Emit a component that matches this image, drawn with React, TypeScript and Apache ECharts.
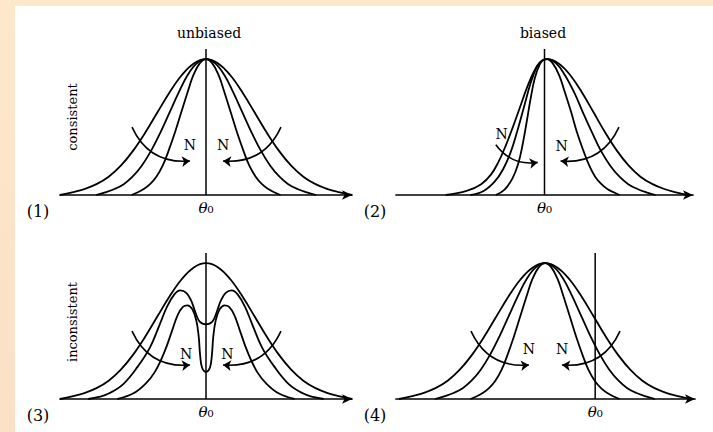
import React, { useEffect, useRef } from "react";
import * as echarts from "echarts";

const FONT = "DejaVu Serif";

// Half profiles of the symmetric sampling densities: [offset from peak, height]
const consistentOuterHalf = [
  [0, 1], [0.25, 0.969], [0.5, 0.882], [0.75, 0.755], [1, 0.607], [1.25, 0.458],
  [1.5, 0.325], [1.75, 0.216], [2, 0.135], [2.25, 0.08], [2.5, 0.044], [2.75, 0.02], [3, 0],
];
const consistentMiddleHalf = [
  [0, 1], [0.19, 0.969], [0.38, 0.882], [0.56, 0.755], [0.75, 0.607], [0.94, 0.458],
  [1.13, 0.325], [1.32, 0.216], [1.51, 0.135], [1.69, 0.08], [1.88, 0.044], [2.07, 0.02], [2.26, 0],
];
const consistentInnerHalf = [
  [0, 1], [0.13, 0.969], [0.26, 0.882], [0.38, 0.755], [0.51, 0.607], [0.64, 0.458],
  [0.77, 0.325], [0.89, 0.216], [1.02, 0.135], [1.15, 0.08], [1.28, 0.044], [1.4, 0.02], [1.53, 0],
];

// Skewed densities of the biased estimator (x measured from θ0)
const biasedOuter = [
  [-2.03, 0], [-1.6, 0.03], [-1.3, 0.08], [-1.1, 0.15], [-0.95, 0.24], [-0.8, 0.36],
  [-0.65, 0.5], [-0.5, 0.65], [-0.35, 0.8], [-0.2, 0.92], [-0.08, 0.98], [0.05, 1],
  [0.29, 0.969], [0.53, 0.882], [0.77, 0.755], [1.01, 0.607], [1.25, 0.458], [1.49, 0.325],
  [1.73, 0.216], [1.97, 0.135], [2.22, 0.08], [2.46, 0.044], [2.7, 0.02], [2.94, 0],
];
const biasedMiddle = [
  [-1.52, 0], [-1.25, 0.03], [-1.02, 0.1], [-0.85, 0.19], [-0.7, 0.31], [-0.56, 0.47],
  [-0.42, 0.65], [-0.28, 0.83], [-0.15, 0.95], [-0.05, 0.99], [0.05, 1],
  [0.24, 0.969], [0.42, 0.882], [0.61, 0.755], [0.79, 0.607], [0.98, 0.458], [1.16, 0.325],
  [1.35, 0.216], [1.54, 0.135], [1.72, 0.08], [1.91, 0.044], [2.09, 0.02], [2.28, 0],
];
const biasedInner = [
  [-1.0, 0], [-0.82, 0.04], [-0.66, 0.12], [-0.54, 0.23], [-0.45, 0.37], [-0.37, 0.53],
  [-0.29, 0.7], [-0.2, 0.86], [-0.1, 0.96], [-0.02, 0.995], [0.05, 1],
  [0.17, 0.969], [0.3, 0.882], [0.42, 0.755], [0.55, 0.607], [0.67, 0.458], [0.8, 0.325],
  [0.92, 0.216], [1.04, 0.135], [1.17, 0.08], [1.29, 0.044], [1.42, 0.02], [1.54, 0],
];

// Bimodal half profiles of the inconsistent estimator
const inconsistentMiddleHalf = [
  [0, 0.55], [0.13, 0.57], [0.22, 0.64], [0.3, 0.72], [0.4, 0.78], [0.53, 0.8],
  [0.65, 0.77], [0.8, 0.68], [0.95, 0.55], [1.15, 0.38], [1.4, 0.24], [1.7, 0.11],
  [2.0, 0.04], [2.2, 0.015], [2.42, 0],
];
const inconsistentInnerHalf = [
  [0, 0.2], [0.08, 0.23], [0.12, 0.32], [0.15, 0.46], [0.2, 0.58], [0.28, 0.66],
  [0.38, 0.69], [0.47, 0.68], [0.58, 0.62], [0.7, 0.5], [0.85, 0.35], [1.05, 0.2],
  [1.25, 0.11], [1.5, 0.04], [1.82, 0],
];

// Offset of θ0 from the peak in panel (4)
const bias4 = 1.03;

// Curved "N" arrows: [start, end] and the bend of each
const arrowsSymmetric = [
  { from: [-1.52, 0.5], to: [-0.33, 0.25], bend: -0.35 },
  { from: [1.54, 0.5], to: [0.35, 0.25], bend: 0.35 },
];
const arrowsBiased = [
  { from: [-1.0, 0.37], to: [-0.14, 0.24], bend: -0.3 },
  { from: [1.53, 0.5], to: [0.33, 0.25], bend: 0.35 },
];
const nConsistent = [[-0.33, 0.365], [0.35, 0.365]];
const nBiased = [[-0.88, 0.45], [0.35, 0.36]];
const nInconsistent = [[-0.41, 0.335], [0.44, 0.335]];

const mirror = (half: number[][], shift = 0) => [
  ...half.slice(1).reverse().map(([x, y]) => [shift - x, y]),
  ...half.map(([x, y]) => [shift + x, y]),
];

const Y_MAX = 1.075;

const panels = [
  {
    grid: { left: 60, top: 49, width: 292, height: 146 },
    xMin: -3, xMax: 3, theta: 0,
    curves: [mirror(consistentOuterHalf), mirror(consistentMiddleHalf), mirror(consistentInnerHalf)],
    arrows: arrowsSymmetric, n: nConsistent,
  },
  {
    grid: { left: 396, top: 49, width: 297, height: 146 },
    xMin: -3.05, xMax: 3.05, theta: 0,
    curves: [biasedOuter, biasedMiddle, biasedInner],
    arrows: arrowsBiased, n: nBiased,
  },
  {
    grid: { left: 60, top: 253, width: 292, height: 146 },
    xMin: -3, xMax: 3, theta: 0,
    curves: [mirror(consistentOuterHalf), mirror(inconsistentMiddleHalf), mirror(inconsistentInnerHalf)],
    arrows: arrowsSymmetric, n: nInconsistent,
  },
  {
    grid: { left: 396, top: 253, width: 299, height: 146 },
    xMin: -3.06, xMax: 3.08, theta: bias4,
    curves: [mirror(consistentOuterHalf), mirror(consistentMiddleHalf), mirror(consistentInnerHalf)],
    arrows: arrowsSymmetric, n: nConsistent,
  },
];

const textStyle = (text: string, size: number) => ({
  text,
  fill: "#000",
  font: `${size}px "${FONT}"`,
  align: "center",
  verticalAlign: "middle",
});

export default function App() {
  const ref = useRef<HTMLDivElement>(null);

  useEffect(() => {
    if (!ref.current) return;
    const chart = echarts.init(ref.current, null, { renderer: "svg" });

    const series: any[] = [];
    panels.forEach((p, i) => {
      p.curves.forEach((data) => {
        series.push({
          type: "line", xAxisIndex: i, yAxisIndex: i, data,
          smooth: 0.4, symbol: "none", silent: true,
          lineStyle: { color: "#000", width: 1.8 },
        });
      });
      series.push({
        type: "line", xAxisIndex: i, yAxisIndex: i, symbol: "none", silent: true,
        data: [[p.theta, 0], [p.theta, Y_MAX]],
        lineStyle: { color: "#000", width: 1.5 },
      });
      series.push({
        type: "lines", coordinateSystem: "cartesian2d", xAxisIndex: i, yAxisIndex: i,
        symbol: ["none", "arrow"], symbolSize: 8, silent: true,
        lineStyle: { color: "#000", width: 1.6, opacity: 1 },
        data: p.arrows.map((a) => ({ coords: [a.from, a.to], lineStyle: { curveness: a.bend } })),
      });
      series.push({
        type: "scatter", xAxisIndex: i, yAxisIndex: i, symbol: "circle", symbolSize: 0, silent: true,
        itemStyle: { color: "#000" },
        label: {
          show: true, position: "inside", formatter: "N",
          fontFamily: FONT, fontSize: 14, color: "#000", opacity: 1,
          textBorderWidth: 0,
        },
        data: p.n,
      });
    });

    chart.setOption({
      animation: false,
      backgroundColor: "transparent",
      grid: panels.map((p) => ({ ...p.grid })),
      xAxis: panels.map((p, i) => ({
        type: "value", gridIndex: i, min: p.xMin, max: p.xMax,
        axisLine: {
          show: true, onZero: false,
          symbol: ["none", "arrow"], symbolSize: [7, 10],
          lineStyle: { color: "#000", width: 1.7 },
        },
        axisTick: { show: false },
        splitLine: { show: false },
        axisLabel: {
          customValues: [p.theta],
          margin: 5,
          formatter: (v: number) => (Math.abs(v - p.theta) < 1e-6 ? "{t|θ}{s|₀}" : ""),
          rich: {
            t: { fontFamily: FONT, fontStyle: "italic", fontSize: 15, color: "#000" },
            s: { fontFamily: FONT, fontSize: 15, color: "#000" },
          },
        },
      })),
      yAxis: panels.map((_, i) => ({
        type: "value", gridIndex: i, min: 0, max: Y_MAX, show: false,
      })),
      series,
      graphic: [
        { type: "text", x: 209, y: 33, style: textStyle("unbiased", 14) },
        { type: "text", x: 543, y: 33, style: textStyle("biased", 14) },
        { type: "text", x: 72, y: 117, rotation: Math.PI / 2, style: textStyle("consistent", 13) },
        { type: "text", x: 72, y: 322, rotation: Math.PI / 2, style: textStyle("inconsistent", 13) },
        { type: "text", x: 38, y: 211, style: textStyle("(1)", 16) },
        { type: "text", x: 375, y: 211, style: textStyle("(2)", 16) },
        { type: "text", x: 38, y: 415, style: textStyle("(3)", 16) },
        { type: "text", x: 375, y: 415, style: textStyle("(4)", 16) },
      ],
    });

    return () => chart.dispose();
  }, []);

  return (
    <div
      style={{
        position: "fixed", left: 0, top: 0, width: 713, height: 432,
        background: "linear-gradient(180deg, #fde8cb 0%, #fbe0c6 100%)",
      }}
    >
      <div style={{ position: "absolute", left: 15, top: 6, right: 0, bottom: 0, background: "#fff" }} />
      <div ref={ref} style={{ position: "absolute", left: 0, top: 0, width: 713, height: 432 }} />
    </div>
  );
}
